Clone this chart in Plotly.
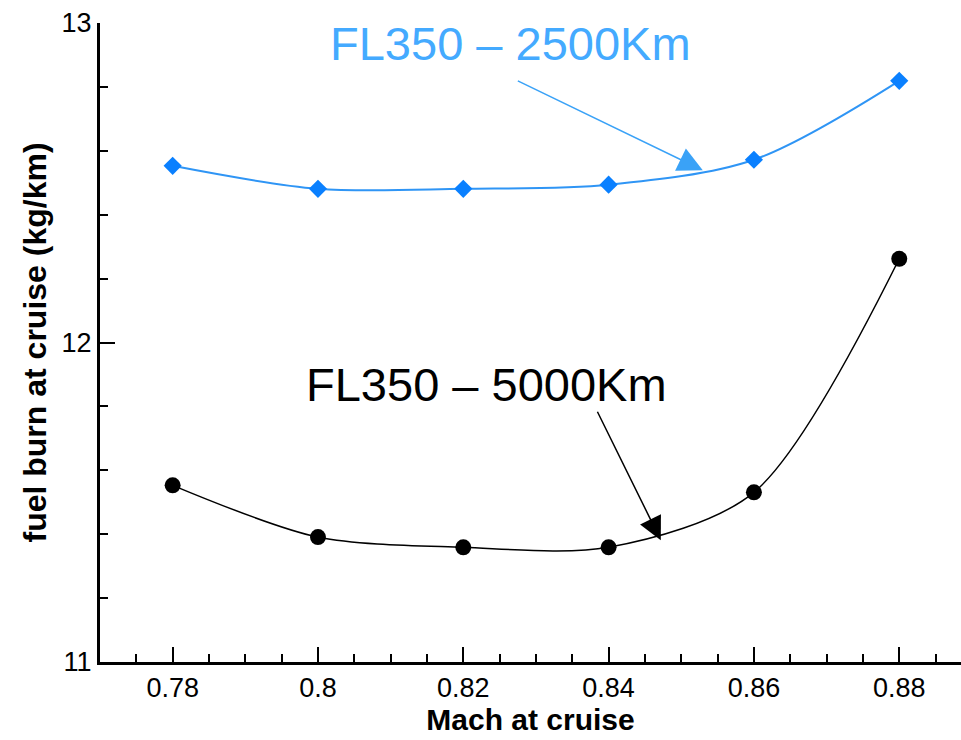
import plotly.graph_objects as go

mach = [0.78, 0.80, 0.82, 0.84, 0.86, 0.88]
fuel_2500 = [12.553, 12.481, 12.481, 12.494, 12.572, 12.819]
fuel_5000 = [11.553, 11.391, 11.359, 11.359, 11.531, 12.262]

label_2500 = "FL350 – 2500Km"
label_5000 = "FL350 – 5000Km"
x_title = "Mach at cruise"
y_title = "fuel burn at cruise (kg/km)"
x_ticks = [0.78, 0.80, 0.82, 0.84, 0.86, 0.88]
x_ticktext = ["0.78", "0.8", "0.82", "0.84", "0.86", "0.88"]
y_ticks = [11, 12, 13]

FONT = "Arial, 'Liberation Sans', sans-serif"

fig = go.Figure()
fig.add_trace(go.Scatter(
    x=mach, y=fuel_2500, mode="lines+markers", name=label_2500,
    line=dict(color="#2f95f5", width=2, shape="spline", smoothing=0.9),
    marker=dict(symbol="diamond", size=14, color="#0a80ff"),
))
fig.add_trace(go.Scatter(
    x=mach, y=fuel_5000, mode="lines+markers", name=label_5000,
    line=dict(color="#000000", width=1.5, shape="spline", smoothing=0.85),
    marker=dict(symbol="circle", size=16, color="#000000"),
))

# text labels
fig.add_annotation(x=0.82654, y=12.935, xref="x", yref="y", text=label_2500,
                   showarrow=False, font=dict(family=FONT, size=47, color="#44aaff"),
                   xanchor="center", yanchor="middle")
fig.add_annotation(x=0.82321, y=11.869, xref="x", yref="y", text=label_5000,
                   showarrow=False, font=dict(family=FONT, size=47, color="#000000"),
                   xanchor="center", yanchor="middle")
# arrows
fig.add_annotation(x=0.85296, y=12.539, ax=0.8273, ay=12.821, xref="x", yref="y",
                   axref="x", ayref="y", text="", showarrow=True, arrowhead=2,
                   arrowsize=3.3, arrowwidth=1.5, arrowcolor="#3aa2f7", standoff=0, startstandoff=0)
fig.add_annotation(x=0.84718, y=11.381, ax=0.83836, ay=11.788, xref="x", yref="y",
                   axref="x", ayref="y", text="", showarrow=True, arrowhead=2,
                   arrowsize=3.1, arrowwidth=1.5, arrowcolor="#000000", standoff=0, startstandoff=0)

fig.update_layout(
    width=961, height=740,
    margin=dict(l=100, r=0, t=23, b=78),
    paper_bgcolor="white", plot_bgcolor="white",
    showlegend=False,
    font=dict(family=FONT, color="black"),
    xaxis=dict(
        range=[0.770, 0.8885], showgrid=False, zeroline=False,
        showline=True, linecolor="black", linewidth=3,
        tickmode="array", tickvals=x_ticks, ticktext=x_ticktext,
        ticks="inside", ticklen=15, tickwidth=2, tickcolor="black",
        tickfont=dict(family=FONT, size=27, color="black"),
        minor=dict(ticks="inside", dtick=0.005, tick0=0.78, ticklen=8, tickwidth=1.5, tickcolor="black", showgrid=False),
        title=dict(text="<b>" + x_title + "</b>", font=dict(family=FONT, size=30, color="black"), standoff=4),
    ),
    yaxis=dict(
        range=[11, 13], showgrid=False, zeroline=False,
        showline=True, linecolor="black", linewidth=3,
        tickmode="array", tickvals=y_ticks,
        ticks="inside", ticklen=15, tickwidth=2, tickcolor="black",
        tickfont=dict(family=FONT, size=27, color="black"),
        minor=dict(ticks="inside", dtick=0.2, tick0=11, ticklen=8, tickwidth=1.5, tickcolor="black", showgrid=False),
        title=dict(text="<b>" + y_title + "</b>", font=dict(family=FONT, size=32, color="black"), standoff=6),
    ),
)

fig.write_html("out.html")
